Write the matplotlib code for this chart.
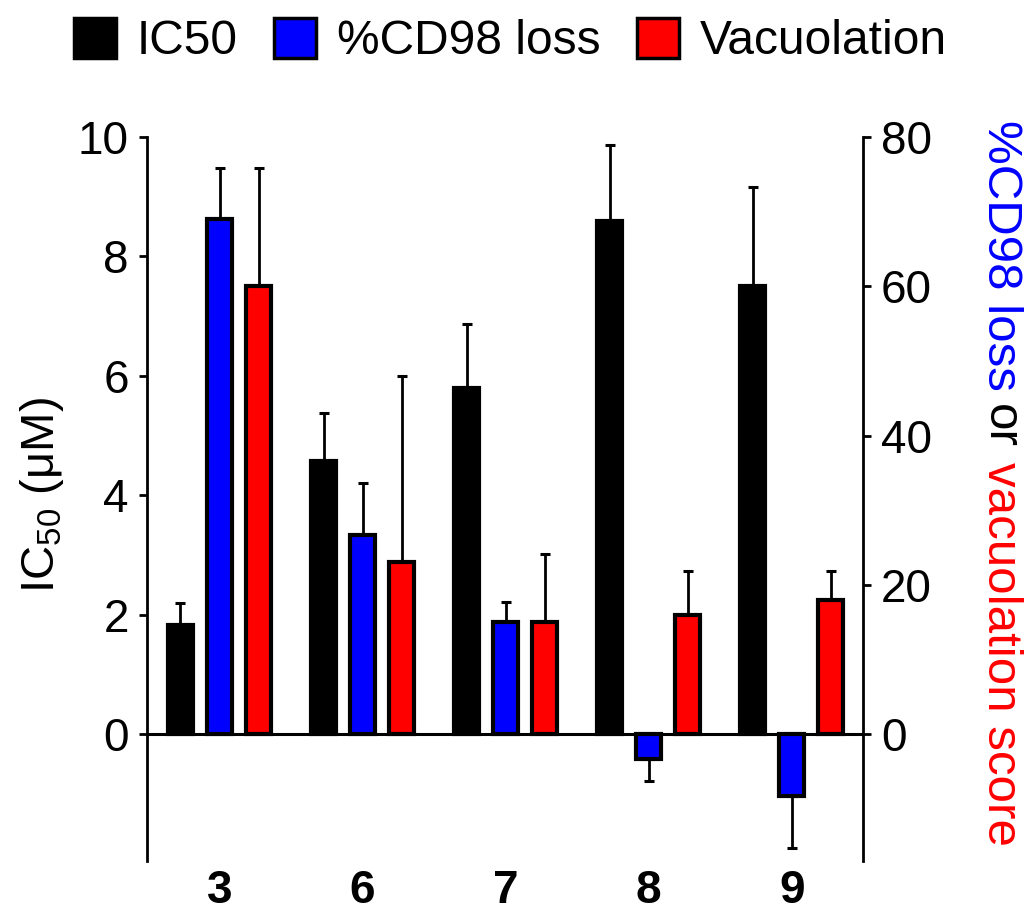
import matplotlib
matplotlib.use('Agg')
import matplotlib.pyplot as plt
from matplotlib.patches import Patch
import numpy as np

# ---- data ----
compounds = ['3', '6', '7', '8', '9']
ic50 = [1.82, 4.57, 5.80, 8.60, 7.51]
ic50_err = [0.38, 0.81, 1.06, 1.27, 1.65]
cd98_loss = [69.0, 26.7, 15.0, -3.4, -8.3]
cd98_err = [6.9, 6.9, 2.7, 2.9, 7.0]
vacuolation = [60.0, 23.0, 15.0, 16.0, 18.0]
vac_err = [15.9, 25.0, 9.1, 5.9, 3.9]
legend_labels = ['IC50', '%CD98 loss', 'Vacuolation']
left_ticks = [0, 2, 4, 6, 8, 10]
right_ticks = [0, 20, 40, 60, 80]

plt.rcParams['font.family'] = ['Liberation Sans', 'DejaVu Sans']
plt.rcParams['mathtext.fontset'] = 'custom'
plt.rcParams['mathtext.rm'] = 'Liberation Sans'
plt.rcParams['mathtext.it'] = 'Liberation Sans:italic'
plt.rcParams['mathtext.bf'] = 'Liberation Sans:bold'

W, H = 1031, 916
fig = plt.figure(figsize=(W / 100, H / 100), dpi=100)
ax_l, ax_r, ax_t, ax_b = 147, 863, 137, 861
ax = fig.add_axes([ax_l / W, 1 - ax_b / H, (ax_r - ax_l) / W, (ax_b - ax_t) / H])
ax2 = ax.twinx()

x = np.arange(len(compounds))
w = 0.175
off = 0.273
elw = 3.0


def one_sided(vals, errs):
    lo = [e if v < 0 else 0 for v, e in zip(vals, errs)]
    hi = [e if v >= 0 else 0 for v, e in zip(vals, errs)]
    return [lo, hi]


err_kw = dict(fmt='none', ecolor='black', elinewidth=2.0, capsize=3.5, capthick=2.2, zorder=2)

ax.bar(x - off, ic50, w, color='black', edgecolor='black', linewidth=elw, zorder=3)
ax.errorbar(x - off, ic50, yerr=one_sided(ic50, ic50_err), **err_kw)

ax2.bar(x, cd98_loss, w, color='#0000ff', edgecolor='black', linewidth=elw, zorder=3)
ax2.errorbar(x, cd98_loss, yerr=one_sided(cd98_loss, cd98_err), **err_kw)
ax2.bar(x + off, vacuolation, w, color='#ff0000', edgecolor='black', linewidth=elw, zorder=3)
ax2.errorbar(x + off, vacuolation, yerr=one_sided(vacuolation, vac_err), **err_kw)

ax.axhline(0, color='black', linewidth=2.2, zorder=4)

ax.set_xlim(-0.507, 4.498)
ax.set_ylim(-2.125, 10)
ax2.set_ylim(-17, 80)

ax.set_yticks(left_ticks)
ax2.set_yticks(right_ticks)
ax.set_xticks(x)
ax.set_xticklabels(compounds, fontsize=33, fontweight='bold')
ax.tick_params(axis='x', length=0, pad=6)
ax.tick_params(axis='y', labelsize=33, length=6, width=2, pad=7)
ax2.tick_params(axis='y', labelsize=33, length=6, width=2, pad=7)

for s in ['top', 'right', 'bottom']:
    ax.spines[s].set_visible(False)
for s in ['top', 'left', 'bottom']:
    ax2.spines[s].set_visible(False)
ax.spines['left'].set_linewidth(2)
ax2.spines['right'].set_linewidth(2)

# left axis label
fig.text(42 / W, 1 - 495 / H, 'IC$_{\\mathregular{50}}$ (μM)', rotation=90,
         ha='center', va='center', fontsize=34)

# right multi-coloured axis label
renderer = fig.canvas.get_renderer()
fs_r = 35.5


def tw(s):
    t = fig.text(0, 0, s, fontsize=fs_r)
    bb = t.get_window_extent(renderer)
    t.remove()
    return bb.width


full = '%CD98 loss or vacuolation score'
pieces = [('%CD98 loss', '#0000ff', 0.0),
          ('or', 'black', tw('%CD98 loss or') - tw('or')),
          ('vacuolation score', '#ff0000', tw(full) - tw('vacuolation score'))]
x_base = 988
y_top = 120
for s, c, start in pieces:
    fig.text(x_base / W, 1 - (y_top + start) / H, s, rotation=270, rotation_mode='anchor',
             ha='left', va='baseline', fontsize=fs_r, color=c)

# legend
handles = [Patch(facecolor=c, edgecolor='black', linewidth=2.5)
           for c in ['black', '#0000ff', '#ff0000']]
fig.legend(handles, legend_labels, loc='center', bbox_to_anchor=(510 / W, 1 - 41 / H),
           ncol=3, frameon=False, fontsize=34.5, handlelength=0.88, handleheight=0.93,
           handletextpad=0.43, columnspacing=0.76, borderpad=0, borderaxespad=0)

fig.savefig('out.png', dpi=100)
